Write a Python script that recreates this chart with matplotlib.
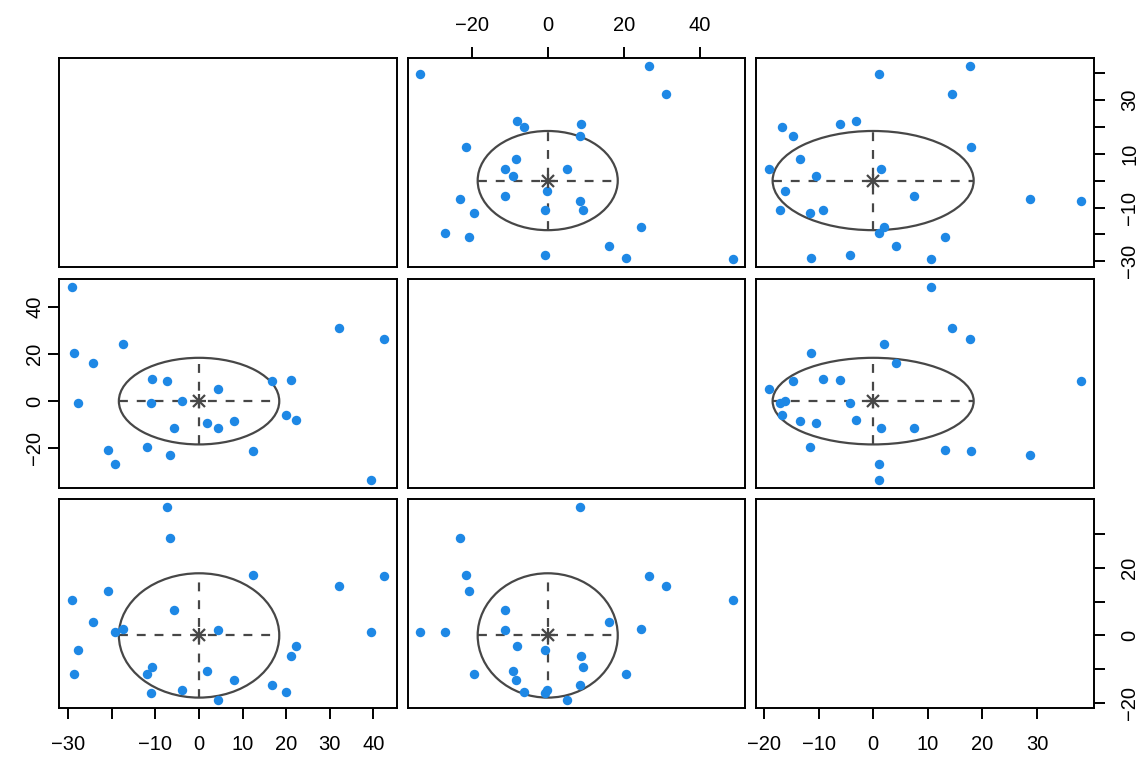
import numpy as np
import matplotlib.pyplot as plt
from matplotlib.patches import Ellipse

plt.rcParams['font.family'] = ['Liberation Sans', 'DejaVu Sans']

# three centred variables, one value per observation
v1 = [-29.2, 32.0, 42.5, -17.4, -28.8, -24.3, -10.9, -7.4, 4.4, 16.7, 21.0, -27.7, -11.1,
      -4.0, 1.8, 4.4, 8.1, -5.7, 20.0, 22.2, -20.9, -11.9, -6.7, 12.3, -19.3, 39.4]
v2 = [48.6, 31.1, 26.5, 24.4, 20.6, 16.2, 9.2, 8.4, 5.1, 8.5, 8.8, -0.6, -0.6,
      -0.1, -9.1, -11.3, -8.4, -11.3, -6.1, -8.2, -20.7, -19.4, -23.0, -21.4, -26.9, -33.5]
v3 = [10.5, 14.5, 17.7, 1.9, -11.4, 4.1, -9.2, 38.1, -19.1, -14.6, -6.0, -4.2, -17.0,
      -16.2, -10.4, 1.5, -13.3, 7.4, -16.7, -3.2, 13.2, -11.5, 28.7, 17.9, 1.0, 1.1]
variables = [np.array(v1), np.array(v2), np.array(v3)]

centre = [0.0, 0.0, 0.0]
radius = 18.4

# axis ticks and the labels R left after dropping overlaps
v1_ticks = [-30, -20, -10, 0, 10, 20, 30, 40]
v1_bottom_labels = ['\u221230', '', '\u221210', '0', '10', '20', '30', '40']
v1_right_labels = ['\u221230', '', '\u221210', '', '10', '', '30', '']
v2_ticks = [-20, 0, 20, 40]
v2_labels = ['\u221220', '0', '20', '40']
v3_ticks = [-20, -10, 0, 10, 20, 30]
v3_bottom_labels = ['\u221220', '\u221210', '0', '10', '20', '30']
v3_right_labels = ['\u221220', '', '0', '', '20', '']

point_col = '#1E88E5'
line_col = '#474747'

W, H = 1144, 759
fig = plt.figure(figsize=(W / 100, H / 100), dpi=100)

lefts = [59.3, 407.7, 756.3]
tops = [58.3, 279.0, 499.0]
pw, ph = 337.5, 208.7


def limits(v):
    lo, hi = v.min(), v.max()
    r = hi - lo
    return lo - 0.04 * r, hi + 0.04 * r


axes = {}
for i in range(3):
    for j in range(3):
        ax = fig.add_axes([lefts[j] / W, 1 - (tops[i] + ph) / H, pw / W, ph / H])
        ax.set_xlim(limits(variables[j]))
        ax.set_ylim(limits(variables[i]))
        ax.set_xticks([])
        ax.set_yticks([])
        for s in ax.spines.values():
            s.set_linewidth(1.4)
            s.set_color('black')
        if i != j:
            x, y = variables[j], variables[i]
            cx, cy = centre[j], centre[i]
            ax.add_patch(Ellipse((cx, cy), 2 * radius, 2 * radius, fill=False,
                                 edgecolor=line_col, linewidth=1.6, zorder=2))
            ax.plot([cx - radius, cx + radius], [cy, cy], color=line_col,
                    linestyle=(0, (4, 4)), linewidth=1.6, zorder=2)
            ax.plot([cx, cx], [cy - radius, cy + radius], color=line_col,
                    linestyle=(0, (4, 4)), linewidth=1.6, zorder=2)
            ax.plot(x, y, 'o', color=point_col, markersize=6.8, markeredgewidth=0, zorder=3)
            ax.plot([cx], [cy], '+', color=line_col, markersize=10.5, markeredgewidth=1.6, zorder=4)
            ax.plot([cx], [cy], 'x', color=line_col, markersize=8, markeredgewidth=1.6, zorder=4)
        axes[i, j] = ax

tick_kw = dict(direction='out', length=8, width=1.4, labelsize=14.5)

# bottom: V1 under column 1, V3 under column 3
ax = axes[2, 0]
ax.set_xticks(v1_ticks, v1_bottom_labels)
ax.tick_params(axis='x', pad=12, **tick_kw)
ax = axes[2, 2]
ax.set_xticks(v3_ticks, v3_bottom_labels)
ax.tick_params(axis='x', pad=12, **tick_kw)

# top: V2 over column 2
ax = axes[0, 1]
ax.xaxis.tick_top()
ax.set_xticks(v2_ticks, v2_labels)
ax.tick_params(axis='x', pad=9, **tick_kw)

# left: V2 beside row 2
ax = axes[1, 0]
ax.set_yticks(v2_ticks, v2_labels, rotation=90, va='center')
ax.tick_params(axis='y', pad=3, **tick_kw)

# right: V1 beside row 1, V3 beside row 3
ax = axes[0, 2]
ax.yaxis.tick_right()
ax.set_yticks(v1_ticks, v1_right_labels, rotation=90, va='center')
ax.tick_params(axis='y', pad=11, **tick_kw)
ax = axes[2, 2]
ax.yaxis.tick_right()
ax.set_yticks(v3_ticks, v3_right_labels, rotation=90, va='center')
ax.tick_params(axis='y', pad=11, **tick_kw)

fig.savefig('out.png', dpi=100)
